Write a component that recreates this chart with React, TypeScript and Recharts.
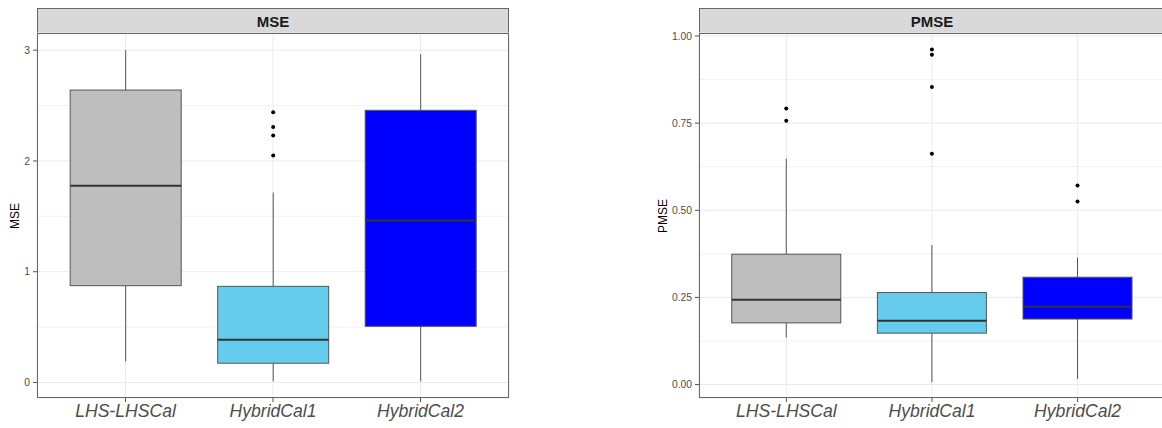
import React from 'react';
import { BarChart, Bar, XAxis, YAxis, CartesianGrid } from 'recharts';

const categories = ['LHS-LHSCal', 'HybridCal1', 'HybridCal2'];

// MSE panel
const mseLow = [0.19, 0.01, 0.01];
const mseQ1 = [0.874, 0.174, 0.507];
const mseMedian = [1.775, 0.385, 1.462];
const mseQ3 = [2.64, 0.868, 2.457];
const mseHigh = [3.0, 1.715, 2.964];
const mseOutliers = [[], [2.44, 2.306, 2.23, 2.05], []];
const mseTicks = [0, 1, 2, 3];
const mseMinor = [0.5, 1.5, 2.5];

// PMSE panel
const pmseLow = [0.135, 0.007, 0.016];
const pmseQ1 = [0.177, 0.1475, 0.188];
const pmseMedian = [0.243, 0.183, 0.223];
const pmseQ3 = [0.374, 0.264, 0.308];
const pmseHigh = [0.648, 0.4, 0.364];
const pmseOutliers = [[0.792, 0.757], [0.961, 0.946, 0.854, 0.662], [0.571, 0.525]];
const pmseTicks = [0, 0.25, 0.5, 0.75, 1];
const pmseMinor = [0.125, 0.375, 0.625, 0.875];

const boxFills = ['#BEBEBE', '#66CCEE', '#0000FF'];
const FONT = '"Liberation Sans", Arial, sans-serif';

const buildRows = (low: number[], q1: number[], med: number[], q3: number[], high: number[], out: number[][]) =>
  categories.map((name, i) => ({
    name,
    box: [q1[i], q3[i]],
    low: low[i],
    q1: q1[i],
    median: med[i],
    q3: q3[i],
    high: high[i],
    outliers: out[i],
    fill: boxFills[i],
  }));

const BoxShape = (props: any) => {
  const { x, y, width, height, payload } = props;
  if (!payload) return null;
  const top = Math.min(y, y + height);
  const h = Math.abs(height);
  const k = h / (payload.q3 - payload.q1);
  const py = (v: number) => top + (payload.q3 - v) * k;
  const cx = x + width / 2;
  return (
    <g>
      <line x1={cx} x2={cx} y1={py(payload.high)} y2={top} stroke="#555" strokeWidth={1} />
      <line x1={cx} x2={cx} y1={top + h} y2={py(payload.low)} stroke="#555" strokeWidth={1} />
      <rect x={x} y={top} width={width} height={h} fill={payload.fill} stroke="#555" strokeWidth={1} />
      <line x1={x} x2={x + width} y1={py(payload.median)} y2={py(payload.median)} stroke="#333" strokeWidth={2} />
      {payload.outliers.map((v: number, i: number) => (
        <circle key={i} cx={cx} cy={py(v)} r={2} fill="#000" />
      ))}
    </g>
  );
};

type PanelProps = {
  title: string;
  left: number;
  width: number;
  axisWidth: number;
  marginRight: number;
  data: any[];
  domain: [number, number];
  ticks: number[];
  minor: number[];
  fmt: (v: number) => string;
  titleX: number;
};

const TOP = 33;
const BOTTOM = 398;
const HEIGHT = 428;

function Panel({ title, left, width, axisWidth, marginRight, data, domain, ticks, minor, fmt, titleX }: PanelProps) {
  const plotW = width - axisWidth - marginRight;
  const pad = plotW / 32;
  return (
    <>
      <div
        style={{
          position: 'absolute', left: left + axisWidth, top: 8, width: plotW, height: TOP - 8 + 1,
          boxSizing: 'border-box', background: '#D9D9D9', border: '1px solid #666',
          display: 'flex', alignItems: 'center', justifyContent: 'center',
          fontFamily: FONT, fontWeight: 'bold', fontSize: 15, color: '#1A1A1A',
        }}
      >
        {title}
      </div>
      <div
        style={{
          position: 'absolute', left: titleX - 40, top: (TOP + BOTTOM) / 2 - 8, width: 80, height: 16,
          transform: 'rotate(-90deg)', textAlign: 'center', lineHeight: '16px',
          fontFamily: FONT, fontSize: 12, color: '#000',
        }}
      >
        {title}
      </div>
      <div style={{ position: 'absolute', left, top: 0 }}>
        <BarChart
          width={width}
          height={HEIGHT}
          data={data}
          margin={{ top: TOP, right: marginRight, bottom: 0, left: 0 }}
          barCategoryGap="12.5%"
        >
          <CartesianGrid horizontalValues={minor} vertical={false} stroke="#F2F2F2" />
          <CartesianGrid stroke="#EBEBEB" />
          <XAxis
            dataKey="name"
            padding={{ left: pad, right: pad }}
            axisLine={false}
            tickSize={4}
            tickMargin={3}
            tickLine={{ stroke: '#555' }}
            tick={{ fontSize: 17.6, fontStyle: 'italic', fill: '#4D4D4D', fontFamily: FONT }}
            height={HEIGHT - BOTTOM}
          />
          <YAxis
            type="number"
            domain={domain}
            ticks={ticks}
            allowDataOverflow
            width={axisWidth}
            axisLine={false}
            tickSize={4}
            tickMargin={3}
            tickLine={{ stroke: '#555' }}
            tickFormatter={fmt}
            tick={{ fontSize: 10.3, fill: '#4D4D4D', fontFamily: FONT }}
          />
          <Bar dataKey="box" shape={<BoxShape />} isAnimationActive={false} />
        </BarChart>
      </div>
      <div
        style={{
          position: 'absolute', left: left + axisWidth, top: TOP, width: plotW, height: BOTTOM - TOP,
          boxSizing: 'border-box', border: '1px solid #666', pointerEvents: 'none',
        }}
      />
    </>
  );
}

export default function App() {
  const mseData = buildRows(mseLow, mseQ1, mseMedian, mseQ3, mseHigh, mseOutliers);
  const pmseData = buildRows(pmseLow, pmseQ1, pmseMedian, pmseQ3, pmseHigh, pmseOutliers);
  return (
    <div style={{ position: 'absolute', left: 0, top: 0, width: 1162, height: 428, overflow: 'hidden', background: '#fff' }}>
      <Panel
        title="MSE"
        left={0}
        width={520}
        axisWidth={37}
        marginRight={11}
        data={mseData}
        domain={[-0.14, 3.155]}
        ticks={mseTicks}
        minor={mseMinor}
        fmt={(v) => String(v)}
        titleX={15}
      />
      <Panel
        title="PMSE"
        left={640}
        width={540}
        axisWidth={59}
        marginRight={15}
        data={pmseData}
        domain={[-0.0385, 1.0086]}
        ticks={pmseTicks}
        minor={pmseMinor}
        fmt={(v) => v.toFixed(2)}
        titleX={663}
      />
    </div>
  );
}
